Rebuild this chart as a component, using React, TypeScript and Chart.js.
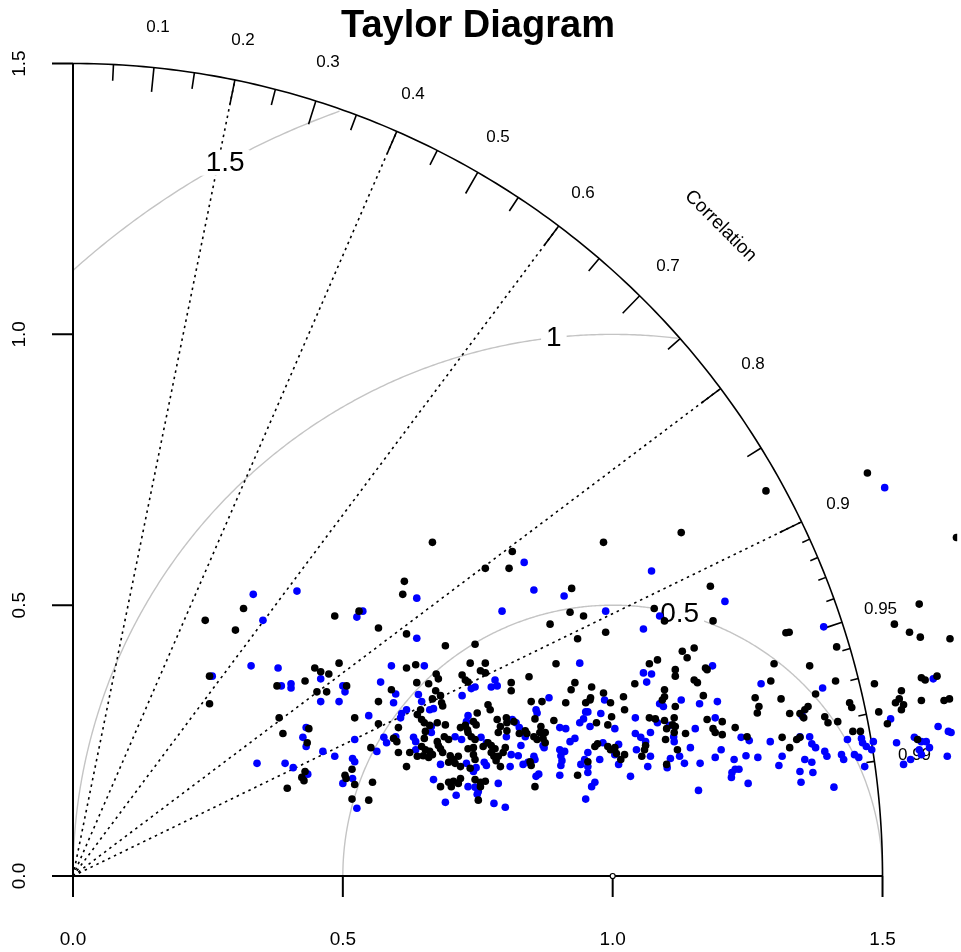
import React, { useEffect, useRef } from 'react';
import { Chart, registerables } from 'chart.js';

Chart.register(...registerables);

const TITLE = 'Taylor Diagram';
const AXIS_TITLE = 'Correlation';
const MAX_SD = 1.5;
const REF_SD = 1.0;
const sdTicks = [0, 0.5, 1.0, 1.5];
const sdTickLabels = ['0.0', '0.5', '1.0', '1.5'];
const corrLabelValues = [0.1, 0.2, 0.3, 0.4, 0.5, 0.6, 0.7, 0.8, 0.9, 0.95, 0.99];
const corrLabelTexts = ['0.1', '0.2', '0.3', '0.4', '0.5', '0.6', '0.7', '0.8', '0.9', '0.95', '0.99'];
const corrLines = [0.2, 0.4, 0.6, 0.8, 0.9];
const bigTicks = [0.1, 0.2, 0.3, 0.4, 0.5, 0.6, 0.7, 0.8, 0.9];
const medTicks = [0.05, 0.15, 0.25, 0.35, 0.45, 0.55, 0.65, 0.75, 0.85, 0.95];
const smallTicks = [0.91, 0.92, 0.93, 0.94, 0.95, 0.96, 0.97, 0.98, 0.99];
const rmsLevels = [0.5, 1, 1.5];
const rmsLabels = ['0.5', '1', '1.5'];
const rmsLabelAngles = [1.32, 1.68, 2.07];

const blackPoints: [number, number][] = [
  [0.245,0.472],[0.316,0.494],[0.301,0.454],[0.485,0.480],[0.530,0.489],[0.566,0.458],
  [0.253,0.369],[0.448,0.384],[0.459,0.377],[0.474,0.373],[0.493,0.393],[0.430,0.360],[0.378,0.351],[0.452,0.340],[0.470,0.340],[0.507,0.351],[0.566,0.322],[0.253,0.318],[0.382,0.292],[0.522,0.292],[0.566,0.281],[0.389,0.263],[0.437,0.272],[0.434,0.246],[0.552,0.237],[0.517,0.197],[0.430,0.193],[0.424,0.182],[0.428,0.176],[0.504,0.186],[0.506,0.180],[0.522,0.169],[0.555,0.173],[0.397,0.162],[0.517,0.142],[0.548,0.140],
  [0.666,0.616],[0.814,0.599],[0.764,0.568],[0.808,0.568],[0.614,0.544],[0.611,0.520],[0.924,0.531],[0.921,0.487],[0.946,0.480],[0.884,0.465],[0.618,0.447],[0.935,0.438],
  [1.284,0.711],[1.127,0.634],[0.983,0.616],[1.181,0.535],[1.077,0.494],[1.096,0.471],[1.186,0.471],[0.987,0.450],[1.321,0.449],
  [1.472,0.744],[1.637,0.625],[1.568,0.502],[1.522,0.465],[1.550,0.450],[1.570,0.441],[1.625,0.438],[1.327,0.450],
  [1.415,0.423],[1.365,0.388],[1.413,0.360],[1.485,0.355],[1.376,0.336],[1.572,0.366],[1.579,0.362],[1.601,0.369],[1.535,0.342],[1.531,0.327],[1.539,0.316],[1.535,0.307],[1.524,0.320],[1.572,0.324],[1.614,0.324],[1.624,0.327],[1.439,0.320],[1.443,0.311],[1.328,0.300],[1.347,0.300],[1.356,0.307],[1.362,0.313],[1.354,0.292],[1.393,0.294],[1.399,0.283],[1.417,0.285],[1.493,0.303],[1.509,0.281],[1.445,0.267],[1.459,0.267],[1.328,0.237],[1.341,0.252],[1.347,0.256],[1.565,0.252],
  [0.690,0.425],[0.745,0.428],[0.635,0.390],[0.618,0.384],[0.736,0.393],[0.764,0.393],[0.755,0.379],[0.764,0.375],[0.895,0.392],[0.673,0.373],[0.677,0.364],[0.721,0.371],[0.727,0.362],[0.732,0.358],[0.637,0.357],[0.659,0.355],[0.590,0.344],[0.812,0.357],[0.812,0.342],[0.845,0.368],[0.930,0.357],[0.923,0.344],[0.672,0.342],[0.681,0.333],[0.666,0.327],[0.683,0.320],[0.685,0.314],[0.769,0.316],[0.773,0.307],[0.849,0.322],[0.869,0.322],[0.913,0.320],[0.950,0.320],[0.644,0.307],[0.638,0.298],[0.603,0.274],[0.749,0.301],[0.742,0.285],[0.747,0.279],[0.727,0.278],[0.718,0.274],[0.731,0.270],[0.786,0.289],[0.803,0.292],[0.804,0.283],[0.817,0.285],[0.856,0.290],[0.891,0.287],[0.646,0.289],[0.651,0.283],[0.661,0.278],[0.653,0.267],[0.675,0.283],[0.690,0.279],[0.792,0.276],[0.788,0.265],[0.804,0.268],[0.827,0.263],[0.838,0.268],[0.841,0.263],[0.867,0.276],[0.865,0.265],[0.875,0.265],[0.854,0.257],[0.860,0.252],[0.871,0.254],[0.875,0.246],[0.594,0.254],[0.600,0.248],[0.651,0.254],[0.646,0.239],[0.653,0.233],[0.661,0.230],[0.666,0.224],[0.675,0.248],[0.677,0.241],[0.681,0.235],[0.685,0.228],[0.688,0.257],[0.696,0.252],[0.732,0.265],[0.738,0.257],[0.745,0.252],[0.732,0.235],[0.742,0.237],[0.760,0.239],[0.769,0.246],[0.775,0.241],[0.782,0.235],[0.801,0.237],[0.797,0.228],[0.775,0.228],[0.780,0.221],[0.788,0.221],[0.784,0.213],[0.624,0.228],[0.603,0.228],[0.638,0.221],[0.649,0.222],[0.618,0.202],[0.659,0.219],[0.699,0.222],[0.705,0.215],[0.696,0.210],[0.708,0.208],[0.714,0.221],[0.718,0.202],[0.742,0.224],[0.745,0.215],[0.792,0.202],[0.847,0.211],[0.849,0.204],[0.736,0.199],[0.935,0.186],[0.681,0.165],[0.696,0.173],[0.705,0.175],[0.714,0.171],[0.701,0.165],[0.718,0.180],[0.745,0.178],[0.755,0.173],[0.764,0.175],[0.755,0.165],[0.856,0.165],[0.751,0.140],
  [1.129,0.415],[1.151,0.421],[1.138,0.403],[1.068,0.392],[1.083,0.399],[1.041,0.355],[1.116,0.381],[1.116,0.369],[1.151,0.362],[1.157,0.357],[1.172,0.384],[1.175,0.381],[1.299,0.392],[1.293,0.360],[0.961,0.349],[0.959,0.329],[0.958,0.325],[0.983,0.338],[0.996,0.320],[1.020,0.331],[1.096,0.344],[1.096,0.331],[1.092,0.325],[1.116,0.313],[1.168,0.333],[1.264,0.329],[1.271,0.313],[1.268,0.301],[1.312,0.327],[1.022,0.307],[0.970,0.283],[0.991,0.279],[0.998,0.294],[1.068,0.292],[1.079,0.290],[1.096,0.287],[1.114,0.292],[1.116,0.276],[1.111,0.279],[1.100,0.272],[1.114,0.265],[1.135,0.263],[1.098,0.252],[1.175,0.289],[1.203,0.285],[1.186,0.272],[1.190,0.265],[1.203,0.261],[1.227,0.274],[1.249,0.257],[1.314,0.256],[1.061,0.241],[1.059,0.233],[1.054,0.221],[1.022,0.224],[1.015,0.215],[0.967,0.239],[0.972,0.244],[0.991,0.239],[1.004,0.237],[0.996,0.233],[1.007,0.226],[0.954,0.211],[1.100,0.206],[1.120,0.233],
];

const bluePoints: [number, number][] = [
  [0.334,0.520],[0.415,0.526],[0.352,0.472],[0.537,0.489],[0.526,0.478],
  [0.258,0.369],[0.330,0.388],[0.380,0.384],[0.386,0.351],[0.404,0.355],[0.404,0.347],[0.459,0.364],[0.459,0.322],[0.493,0.322],[0.500,0.351],[0.504,0.340],[0.570,0.358],[0.548,0.296],[0.432,0.274],[0.426,0.256],[0.432,0.239],[0.522,0.252],[0.576,0.256],[0.581,0.246],[0.563,0.230],[0.463,0.230],[0.485,0.221],[0.518,0.217],[0.522,0.211],[0.341,0.208],[0.393,0.208],[0.408,0.200],[0.435,0.188],[0.518,0.180],[0.500,0.171],[0.526,0.125],
  [0.836,0.579],[0.637,0.513],[0.854,0.528],[0.910,0.517],[0.795,0.489],[0.637,0.439],
  [1.072,0.563],[1.208,0.507],[0.987,0.489],[1.087,0.480],[1.057,0.456],
  [1.504,0.717],[1.391,0.460],
  [1.389,0.347],[1.594,0.364],[1.351,0.296],[1.515,0.290],[1.603,0.276],[1.622,0.267],[1.627,0.265],[1.435,0.252],[1.461,0.254],[1.463,0.246],[1.470,0.239],[1.480,0.233],[1.483,0.248],[1.347,0.257],[1.365,0.257],[1.369,0.244],[1.376,0.237],[1.393,0.230],[1.397,0.221],[1.526,0.246],[1.559,0.256],[1.572,0.248],[1.581,0.248],[1.587,0.237],[1.568,0.233],[1.572,0.224],[1.539,0.206],[1.552,0.215],[1.620,0.221],[1.424,0.224],[1.428,0.215],[1.448,0.224],[1.456,0.219],[1.467,0.202],[1.356,0.215],[1.369,0.210],[1.371,0.191],[1.347,0.193],[1.349,0.173],[1.410,0.164],
  [0.651,0.388],[0.590,0.388],[0.939,0.393],[0.598,0.336],[0.745,0.349],[0.738,0.346],[0.782,0.362],[0.775,0.349],[0.786,0.351],[0.721,0.333],[0.640,0.335],[0.646,0.322],[0.594,0.320],[0.668,0.309],[0.882,0.329],[0.858,0.307],[0.860,0.301],[0.950,0.303],[0.618,0.307],[0.609,0.300],[0.607,0.292],[0.661,0.307],[0.732,0.296],[0.729,0.285],[0.814,0.289],[0.821,0.283],[0.902,0.274],[0.913,0.272],[0.939,0.283],[0.946,0.290],[0.664,0.276],[0.664,0.265],[0.827,0.274],[0.838,0.257],[0.830,0.241],[0.871,0.241],[0.873,0.237],[0.631,0.256],[0.635,0.248],[0.598,0.257],[0.708,0.257],[0.720,0.252],[0.756,0.256],[0.766,0.246],[0.803,0.257],[0.812,0.224],[0.825,0.222],[0.635,0.233],[0.681,0.206],[0.729,0.208],[0.747,0.200],[0.762,0.210],[0.766,0.204],[0.810,0.202],[0.834,0.206],[0.843,0.210],[0.854,0.221],[0.856,0.215],[0.902,0.233],[0.904,0.222],[0.906,0.213],[0.904,0.204],[0.921,0.248],[0.930,0.254],[0.911,0.230],[0.941,0.206],[0.948,0.215],[0.742,0.193],[0.858,0.184],[0.863,0.188],[0.902,0.186],[0.668,0.178],[0.732,0.165],[0.745,0.164],[0.751,0.156],[0.788,0.171],[0.690,0.136],[0.710,0.149],[0.749,0.151],[0.780,0.134],[0.801,0.127],[0.950,0.142],
  [1.057,0.375],[1.072,0.373],[1.063,0.358],[1.185,0.388],[1.275,0.355],[0.985,0.325],[1.087,0.318],[1.094,0.313],[1.127,0.325],[1.161,0.318],[1.194,0.322],[0.954,0.303],[0.978,0.300],[0.958,0.276],[1.004,0.272],[1.042,0.292],[1.083,0.283],[1.105,0.278],[1.113,0.257],[1.114,0.248],[1.153,0.272],[1.190,0.292],[1.238,0.256],[1.253,0.250],[1.292,0.248],[1.042,0.263],[1.052,0.256],[1.061,0.248],[1.070,0.265],[1.044,0.233],[1.070,0.221],[1.011,0.206],[0.982,0.246],[1.011,0.243],[1.004,0.224],[0.976,0.215],[0.954,0.202],[0.954,0.191],[0.954,0.228],[1.033,0.184],[1.065,0.202],[1.101,0.200],[1.124,0.221],[1.107,0.217],[1.144,0.237],[1.133,0.208],[1.162,0.208],[1.190,0.219],[1.201,0.233],[1.225,0.215],[1.227,0.197],[1.221,0.191],[1.220,0.182],[1.234,0.197],[1.247,0.222],[1.269,0.219],[1.251,0.171],[1.314,0.221],[1.308,0.204],[1.159,0.158],[0.967,0.173],[0.961,0.165],
];

const FONT = '"Liberation Sans", Arial, Helvetica, sans-serif';

const taylorPlugin = {
  id: 'taylorFrame',
  beforeDatasetsDraw(chart: any) {
    const { ctx } = chart;
    const xs = chart.scales.x;
    const ys = chart.scales.y;
    const X = (v: number) => xs.getPixelForValue(v);
    const Y = (v: number) => ys.getPixelForValue(v);
    ctx.save();

    // RMS (centred) arcs around the reference point
    ctx.strokeStyle = '#c4c4c4';
    ctx.lineWidth = 1.4;
    ctx.setLineDash([]);
    rmsLevels.forEach((g) => {
      ctx.beginPath();
      let started = false;
      for (let t = 0; t <= Math.PI + 1e-9; t += 0.005) {
        const xc = REF_SD + g * Math.cos(t);
        const yc = g * Math.sin(t);
        const ok = xc >= -1e-6 && xc * xc + yc * yc <= MAX_SD * MAX_SD + 1e-6;
        if (ok) {
          if (!started) { ctx.moveTo(X(xc), Y(yc)); started = true; }
          else ctx.lineTo(X(xc), Y(yc));
        }
      }
      ctx.stroke();
    });

    // dotted radial correlation lines
    ctx.strokeStyle = '#000';
    ctx.lineWidth = 1.6;
    ctx.setLineDash([2.5, 4]);
    corrLines.forEach((c) => {
      ctx.beginPath();
      ctx.moveTo(X(0), Y(0));
      ctx.lineTo(X(MAX_SD * c), Y(MAX_SD * Math.sqrt(1 - c * c)));
      ctx.stroke();
    });
    ctx.setLineDash([]);

    // outer arc
    ctx.lineWidth = 1.6;
    ctx.beginPath();
    for (let i = 0; i <= 180; i++) {
      const a = (Math.PI / 2) * (i / 180);
      const px = X(MAX_SD * Math.cos(a));
      const py = Y(MAX_SD * Math.sin(a));
      if (i === 0) ctx.moveTo(px, py); else ctx.lineTo(px, py);
    }
    ctx.stroke();

    // correlation ticks
    const tick = (c: number, inner: number) => {
      const s = Math.sqrt(1 - c * c);
      ctx.moveTo(X(MAX_SD * c), Y(MAX_SD * s));
      ctx.lineTo(X(MAX_SD * inner * c), Y(MAX_SD * inner * s));
    };
    ctx.beginPath();
    bigTicks.forEach((c) => tick(c, 0.97));
    medTicks.forEach((c) => tick(c, 0.98));
    smallTicks.forEach((c) => tick(c, 0.99));
    ctx.stroke();

    // axes
    const tl = 21;
    ctx.lineWidth = 2;
    ctx.beginPath();
    ctx.moveTo(X(0), Y(0));
    ctx.lineTo(X(0), Y(MAX_SD));
    ctx.moveTo(X(0), Y(0));
    ctx.lineTo(X(MAX_SD), Y(0));
    sdTicks.forEach((v) => {
      ctx.moveTo(X(0) - tl, Y(v));
      ctx.lineTo(X(0), Y(v));
      ctx.moveTo(X(v), Y(0));
      ctx.lineTo(X(v), Y(0) + tl);
    });
    ctx.stroke();

    // axis labels
    ctx.fillStyle = '#000';
    ctx.font = `19px ${FONT}`;
    ctx.textAlign = 'center';
    ctx.textBaseline = 'middle';
    sdTicks.forEach((v, i) => {
      ctx.fillText(sdTickLabels[i], X(v), Y(0) + 64);
      ctx.save();
      ctx.translate(X(0) - 53, Y(v));
      ctx.rotate(-Math.PI / 2);
      ctx.fillText(sdTickLabels[i], 0, 0);
      ctx.restore();
    });

    // correlation labels
    ctx.font = `17px ${FONT}`;
    corrLabelValues.forEach((c, i) => {
      const r = MAX_SD * 1.05;
      ctx.fillText(corrLabelTexts[i], X(r * c), Y(r * Math.sqrt(1 - c * c)));
    });

    // "Correlation" title
    ctx.save();
    ctx.font = `19px ${FONT}`;
    ctx.translate(X(MAX_SD * 0.8), Y(MAX_SD * 0.8));
    ctx.rotate(Math.PI / 4);
    ctx.fillText(AXIS_TITLE, 0, 0);
    ctx.restore();

    // RMS labels with white boxes
    ctx.font = `28px ${FONT}`;
    rmsLevels.forEach((g, i) => {
      const a = rmsLabelAngles[i];
      const lx = X(REF_SD + g * Math.cos(a));
      const ly = Y(g * Math.sin(a));
      const w = ctx.measureText(rmsLabels[i]).width;
      ctx.fillStyle = '#fff';
      ctx.fillRect(lx - w / 2 - 5, ly - 13, w + 10, 26);
      ctx.fillStyle = '#000';
      ctx.fillText(rmsLabels[i], lx, ly + 1);
    });

    // reference point
    ctx.lineWidth = 1.2;
    ctx.beginPath();
    ctx.fillStyle = '#fff';
    ctx.strokeStyle = '#000';
    ctx.arc(X(REF_SD), Y(0), 2.5, 0, Math.PI * 2);
    ctx.fill();
    ctx.stroke();

    // title
    ctx.fillStyle = '#000';
    ctx.font = `bold 38px ${FONT}`;
    ctx.textBaseline = 'alphabetic';
    ctx.fillText(TITLE, 478, 37);

    ctx.restore();
  },
};

export default function App() {
  const ref = useRef<HTMLCanvasElement | null>(null);
  useEffect(() => {
    document.body.style.margin = '0';
    const canvas = ref.current;
    if (!canvas) return;
    const chart = new Chart(canvas, {
      type: 'scatter',
      data: {
        datasets: [
          {
            label: 'black',
            data: blackPoints.map(([x, y]) => ({ x, y })),
            backgroundColor: '#000000',
            pointRadius: 3.8,
            pointBorderWidth: 0,
            pointHoverRadius: 3.8,
          },
          {
            label: 'blue',
            data: bluePoints.map(([x, y]) => ({ x, y })),
            backgroundColor: '#0000ff',
            pointRadius: 3.8,
            pointBorderWidth: 0,
            pointHoverRadius: 3.8,
          },
        ],
      },
      options: {
        responsive: false,
        animation: false,
        devicePixelRatio: 1,
        layout: { padding: { left: 73, right: 0, top: 0, bottom: 76 } },
        scales: {
          x: { type: 'linear', min: 0, max: 888 / 542, display: false },
          y: { type: 'linear', min: 0, max: 876 / 544, display: false },
        },
        plugins: {
          legend: { display: false },
          tooltip: { enabled: false },
          title: { display: false },
        },
        events: [],
      },
      plugins: [taylorPlugin],
    });
    return () => chart.destroy();
  }, []);
  return (
    <div style={{ width: 961, height: 952, background: '#fff' }}>
      <canvas ref={ref} width={961} height={952} style={{ display: 'block' }} />
    </div>
  );
}
